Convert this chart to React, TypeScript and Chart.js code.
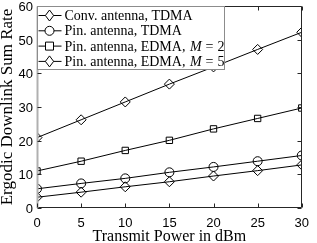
import { useEffect, useRef, useState } from 'react';
import { Chart, registerables } from 'chart.js';
Chart.register(...registerables);

const powers = [0, 5, 10, 15, 20, 25, 30];
const convTdma = [20.9, 26.2, 31.5, 36.8, 41.9, 47.1, 52.2];
const pinTdma = [5.7, 7.3, 8.8, 10.6, 12.2, 13.9, 15.6];
const pinEdma2 = [11.0, 13.9, 17.1, 20.1, 23.5, 26.6, 29.7];
const pinEdma5 = [3.2, 4.7, 6.3, 7.8, 9.5, 11.1, 12.8];
const seriesLabels = ['Conv. antenna, TDMA', 'Pin. antenna, TDMA', 'Pin. antenna, EDMA, M = 2', 'Pin. antenna, EDMA, M = 5'];
const seriesMarkers = ['diamond', 'circle', 'square', 'diamond'];
const xTitle = 'Transmit Power in dBm';
const yTitle = 'Ergodic Downlink Sum Rate';

const SERIF = '14px "Liberation Serif"';
const SERIF_IT = 'italic 14px "Liberation Serif"';

function drawMarker(ctx: CanvasRenderingContext2D, kind: string, x: number, y: number) {
  ctx.beginPath();
  if (kind === 'diamond') {
    const r = 5.5;
    ctx.moveTo(x, y - r); ctx.lineTo(x + r * 0.75, y); ctx.lineTo(x, y + r); ctx.lineTo(x - r * 0.75, y); ctx.closePath();
  } else if (kind === 'circle') {
    ctx.arc(x, y, 4.5, 0, Math.PI * 2);
  } else {
    ctx.rect(x - 4, y - 4, 8, 8);
  }
  ctx.fillStyle = '#fff';
  ctx.fill();
  ctx.stroke();
}

const framePlugin = {
  id: 'frame',
  afterDatasetsDraw(chart: any) {
    const { ctx, chartArea: a, scales } = chart;
    ctx.save();
    ctx.strokeStyle = '#262626';
    ctx.lineWidth = 1;
    const L = Math.round(a.left) + 0.5, R = Math.round(a.right) - 0.5, T = Math.round(a.top) + 0.5, B = Math.round(a.bottom) - 0.5;
    ctx.beginPath();
    ctx.moveTo(L, T); ctx.lineTo(R, T); ctx.lineTo(R, B); ctx.lineTo(L, B);
    ctx.stroke();
    ctx.strokeStyle = '#b0b0b0';
    ctx.lineWidth = 2;
    ctx.beginPath(); ctx.moveTo(L, T); ctx.lineTo(L, B + 0.5); ctx.stroke();
    ctx.strokeStyle = '#262626';
    ctx.lineWidth = 1;
    const tl = 4;
    ctx.beginPath();
    scales.x.ticks.forEach((t: any) => {
      const px = Math.round(scales.x.getPixelForValue(t.value)) + 0.5;
      ctx.moveTo(px, B); ctx.lineTo(px, B - tl);
      ctx.moveTo(px, T); ctx.lineTo(px, T + tl);
    });
    scales.y.ticks.forEach((t: any) => {
      const py = Math.round(scales.y.getPixelForValue(t.value)) + 0.5;
      ctx.moveTo(L, py); ctx.lineTo(L + tl, py);
      ctx.moveTo(R, py); ctx.lineTo(R - tl, py);
    });
    ctx.stroke();

    const lx = L, ly = T, lw = 187, lh = 63;
    ctx.fillStyle = '#fff';
    ctx.fillRect(lx, ly, lw, lh);
    ctx.strokeStyle = '#8c8c8c';
    ctx.strokeRect(lx, ly, lw, lh);
    ctx.strokeStyle = '#000';
    ctx.textBaseline = 'middle';
    seriesLabels.forEach((lab, i) => {
      const cy = ly + 9 + i * 15.3;
      ctx.lineWidth = 1;
      ctx.beginPath(); ctx.moveTo(lx + 1, cy); ctx.lineTo(lx + 24, cy); ctx.stroke();
      drawMarker(ctx, seriesMarkers[i], lx + 12, cy);
      ctx.fillStyle = '#000';
      let tx = lx + 27;
      const m = lab.match(/^(.*, )M = (.*)$/);
      const put = (s: string, f: string, after = 0) => {
        ctx.font = f;
        ctx.fillText(s, tx, cy + 1);
        tx += ctx.measureText(s).width + after;
      };
      if (m) {
        put(m[1], SERIF, 1);
        put('M', SERIF_IT, 4);
        put('=', SERIF, 4);
        put(m[2], SERIF);
      } else {
        put(lab, SERIF);
      }
    });
    ctx.restore();
  },
};

type YLab = { text: string; top: number; right: number };

export default function App() {
  const ref = useRef<HTMLCanvasElement>(null);
  const [yLabels, setYLabels] = useState<YLab[]>([]);
  useEffect(() => {
    document.body.style.margin = '0';
    const all = [convTdma, pinTdma, pinEdma2, pinEdma5];
    const styles = ['rectRot', 'circle', 'rect', 'rectRot'];
    const radii = [5, 4.5, 4.5, 5];
    const chart = new Chart(ref.current!, {
      type: 'line',
      data: {
        datasets: all.map((vals, i) => ({
          label: seriesLabels[i],
          data: powers.map((p, j) => ({ x: p, y: vals[j] })),
          borderColor: '#000',
          borderWidth: 1,
          backgroundColor: '#fff',
          pointStyle: styles[i] as any,
          pointRadius: radii[i],
          pointBorderColor: '#000',
          pointBorderWidth: 1,
          pointBackgroundColor: 'rgba(255,255,255,0)',
          tension: 0,
        })),
      },
      options: {
        animation: false,
        responsive: false,
        devicePixelRatio: 1,
        layout: { padding: { top: 4, right: 8, left: 0, bottom: 0 } },
        plugins: { legend: { display: false }, tooltip: { enabled: false } },
        scales: {
          x: {
            type: 'linear', min: 0, max: 30,
            grid: { display: false, tickLength: 0 }, border: { display: false },
            ticks: { stepSize: 5, color: '#000', padding: 8, font: { family: '"Liberation Sans"', size: 13 }, maxRotation: 0 },
            title: { display: true, text: xTitle, color: '#000', padding: { top: -2, bottom: -2 }, font: { family: '"Liberation Serif"', size: 16, lineHeight: 1 } },
            afterFit(s: any) { s.height = 35; },
          },
          y: {
            min: 0, max: 60,
            grid: { display: false, tickLength: 0 }, border: { display: false },
            ticks: { display: false, stepSize: 10 },
            title: { display: true, text: yTitle, color: '#000', padding: { top: -1, bottom: -1 }, font: { family: '"Liberation Serif"', size: 17, lineHeight: 1 } },
            afterFit(s: any) { s.width = 37; },
          },
        },
      },
      plugins: [framePlugin],
    });
    const ys: any = chart.scales.y;
    const left = chart.chartArea.left;
    setYLabels(ys.ticks.map((t: any) => ({
      text: String(t.label),
      top: ys.getPixelForValue(t.value),
      right: 317 - (left - 4),
    })));
    return () => chart.destroy();
  }, []);
  return (
    <div style={{ position: 'relative', width: 317, height: 243, overflow: 'hidden' }}>
      <canvas ref={ref} width={317} height={243} style={{ display: 'block' }} />
      {yLabels.map((l) => (
        <span
          key={l.text}
          style={{
            position: 'absolute',
            right: l.right,
            top: l.top - 7,
            fontFamily: '"Liberation Sans", Arial, sans-serif',
            fontSize: 13,
            lineHeight: '15px',
            color: '#000',
            zIndex: 2,
            whiteSpace: 'nowrap',
          }}
        >
          {l.text}
        </span>
      ))}
    </div>
  );
}
